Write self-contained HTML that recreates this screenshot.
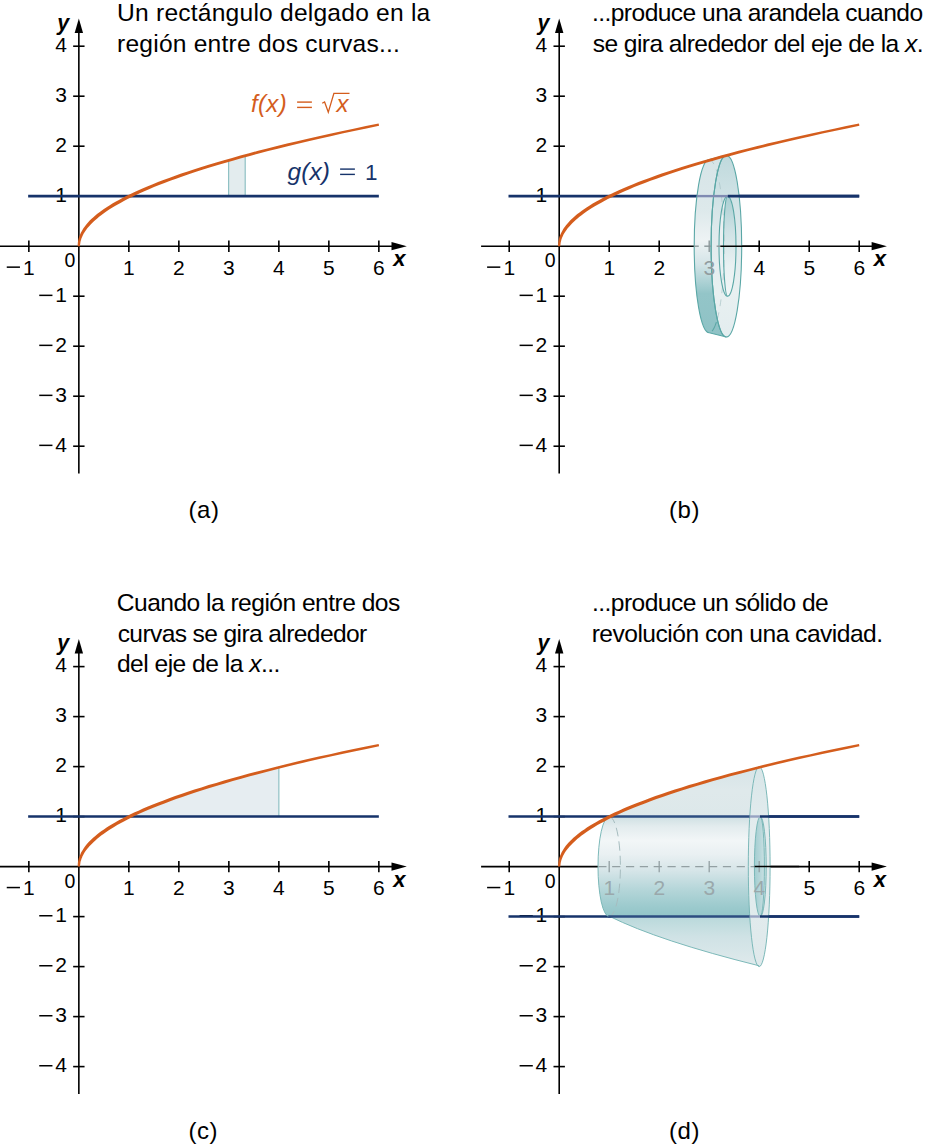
<!DOCTYPE html>
<html><head><meta charset="utf-8"><title>Figure</title>
<style>html,body{margin:0;padding:0;background:#fff}svg{display:block}text{font-family:"Liberation Sans",sans-serif}</style>
</head><body>
<svg width="930" height="1147" viewBox="0 0 930 1147" font-family="'Liberation Sans', sans-serif">
<defs></defs>
<rect width="930" height="1147" fill="#fff"/>
<!-- panel a -->
<path d="M228.6,196.20 L228.6,160.36 L245.2,155.73 L245.2,196.20 Z" fill="#e3ecee"/>
<path d="M228.6,196.20 L228.6,160.36 M245.2,155.73 L245.2,196.20" stroke="#8fc1c4" stroke-width="1.2" fill="none"/>
<line x1="0" y1="246.2" x2="394.8" y2="246.2" stroke="#000" stroke-width="1.6"/>
<path d="M406.8,246.2 L391.5,242.1 L391.5,250.29999999999998 Z" fill="#000"/>
<line x1="78.85" y1="30.5" x2="78.85" y2="473.6" stroke="#000" stroke-width="1.6"/>
<path d="M78.85,18.5 L74.64999999999999,33.1 L83.05,33.1 Z" fill="#000"/>
<line x1="28.849999999999994" y1="240.5" x2="28.849999999999994" y2="251.89999999999998" stroke="#000" stroke-width="1.6"/>
<line x1="128.85" y1="240.5" x2="128.85" y2="251.89999999999998" stroke="#000" stroke-width="1.6"/>
<line x1="178.85" y1="240.5" x2="178.85" y2="251.89999999999998" stroke="#000" stroke-width="1.6"/>
<line x1="228.85" y1="240.5" x2="228.85" y2="251.89999999999998" stroke="#000" stroke-width="1.6"/>
<line x1="278.85" y1="240.5" x2="278.85" y2="251.89999999999998" stroke="#000" stroke-width="1.6"/>
<line x1="328.85" y1="240.5" x2="328.85" y2="251.89999999999998" stroke="#000" stroke-width="1.6"/>
<line x1="378.85" y1="240.5" x2="378.85" y2="251.89999999999998" stroke="#000" stroke-width="1.6"/>
<line x1="73.14999999999999" y1="446.20" x2="84.55" y2="446.20" stroke="#000" stroke-width="1.6"/>
<line x1="73.14999999999999" y1="396.20" x2="84.55" y2="396.20" stroke="#000" stroke-width="1.6"/>
<line x1="73.14999999999999" y1="346.20" x2="84.55" y2="346.20" stroke="#000" stroke-width="1.6"/>
<line x1="73.14999999999999" y1="296.20" x2="84.55" y2="296.20" stroke="#000" stroke-width="1.6"/>
<line x1="73.14999999999999" y1="196.20" x2="84.55" y2="196.20" stroke="#000" stroke-width="1.6"/>
<line x1="73.14999999999999" y1="146.20" x2="84.55" y2="146.20" stroke="#000" stroke-width="1.6"/>
<line x1="73.14999999999999" y1="96.20" x2="84.55" y2="96.20" stroke="#000" stroke-width="1.6"/>
<line x1="73.14999999999999" y1="46.20" x2="84.55" y2="46.20" stroke="#000" stroke-width="1.6"/>
<text x="28.95" y="274.80" font-size="21" text-anchor="middle">1</text>
<rect x="6.75" y="266.40" width="13.2" height="1.5" fill="#000"/>
<text x="128.95" y="274.80" font-size="21" text-anchor="middle">1</text>
<text x="178.95" y="274.80" font-size="21" text-anchor="middle">2</text>
<text x="228.95" y="274.80" font-size="21" text-anchor="middle">3</text>
<text x="278.95" y="274.80" font-size="21" text-anchor="middle">4</text>
<text x="328.95" y="274.80" font-size="21" text-anchor="middle">5</text>
<text x="378.95" y="274.80" font-size="21" text-anchor="middle">6</text>
<text x="75.35" y="267.30" font-size="19.5" text-anchor="end">0</text>
<text x="66.95" y="451.60" font-size="21" text-anchor="end">4</text>
<rect x="39.25" y="444.60" width="13.2" height="1.5" fill="#000"/>
<text x="66.95" y="401.60" font-size="21" text-anchor="end">3</text>
<rect x="39.25" y="394.60" width="13.2" height="1.5" fill="#000"/>
<text x="66.95" y="351.60" font-size="21" text-anchor="end">2</text>
<rect x="39.25" y="344.60" width="13.2" height="1.5" fill="#000"/>
<text x="66.95" y="301.60" font-size="21" text-anchor="end">1</text>
<rect x="39.25" y="294.60" width="13.2" height="1.5" fill="#000"/>
<text x="66.95" y="201.60" font-size="21" text-anchor="end">1</text>
<text x="66.95" y="151.60" font-size="21" text-anchor="end">2</text>
<text x="66.95" y="101.60" font-size="21" text-anchor="end">3</text>
<text x="66.95" y="51.60" font-size="21" text-anchor="end">4</text>
<text x="57.15" y="30.00" font-size="21.5" font-weight="bold" font-style="italic">y</text>
<text x="393.35" y="266.20" font-size="22" font-weight="bold" font-style="italic">x</text>
<line x1="28.15" y1="196.10" x2="378.85" y2="196.10" stroke="#16336a" stroke-width="2.6"/>
<path d="M80.0,246.2 L80.0,246.0 L80.0,245.6 L80.0,245.2 L80.1,244.6 L80.2,244.0 L80.3,243.3 L80.4,242.5 L80.5,241.7 L80.7,240.9 L81.0,240.0 L81.3,239.0 L81.6,238.0 L82.1,237.0 L82.5,235.9 L83.1,234.8 L83.7,233.6 L84.4,232.4 L85.2,231.2 L86.1,229.9 L87.1,228.6 L88.2,227.3 L89.4,225.9 L90.7,224.5 L92.2,223.0 L93.7,221.5 L95.4,220.0 L97.2,218.4 L99.1,216.8 L101.2,215.2 L103.5,213.5 L105.9,211.8 L108.4,210.1 L111.2,208.3 L114.1,206.5 L117.2,204.7 L120.5,202.9 L123.9,201.0 L127.6,199.1 L131.5,197.2 L135.5,195.2 L139.8,193.2 L144.3,191.2 L149.0,189.2 L154.0,187.1 L159.1,185.1 L164.5,183.0 L170.2,180.8 L176.1,178.7 L182.3,176.5 L188.7,174.3 L195.3,172.1 L202.3,169.8 L209.5,167.6 L217.0,165.3 L224.8,163.0 L232.8,160.7 L241.2,158.3 L249.9,155.9 L258.8,153.5 L268.1,151.1 L277.7,148.7 L287.6,146.2 L297.9,143.7 L308.4,141.2 L319.3,138.7 L330.6,136.2 L342.2,133.6 L354.1,131.0 L366.4,128.5 L379.1,125.8 L378.6,123.6 L365.9,126.1 L353.6,128.7 L341.6,131.2 L330.0,133.8 L318.8,136.2 L307.8,138.7 L297.2,141.2 L287.0,143.6 L277.0,146.1 L267.4,148.5 L258.1,150.8 L249.1,153.2 L240.4,155.6 L232.1,157.9 L224.0,160.2 L216.2,162.5 L208.6,164.7 L201.4,167.0 L194.4,169.2 L187.7,171.4 L181.2,173.6 L175.1,175.7 L169.1,177.9 L163.4,180.0 L158.0,182.1 L152.8,184.2 L147.8,186.2 L143.0,188.2 L138.5,190.3 L134.1,192.2 L130.0,194.2 L126.1,196.1 L122.4,198.0 L118.9,199.9 L115.5,201.8 L112.4,203.6 L109.4,205.4 L106.6,207.2 L103.9,209.0 L101.5,210.7 L99.1,212.4 L97.0,214.1 L95.0,215.8 L93.1,217.4 L91.3,219.0 L89.7,220.6 L88.2,222.2 L86.9,223.7 L85.7,225.2 L84.6,226.7 L83.6,228.1 L82.7,229.5 L81.9,230.9 L81.1,232.2 L80.5,233.5 L80.0,234.8 L79.5,236.0 L79.1,237.1 L78.7,238.2 L78.5,239.3 L78.2,240.3 L78.1,241.3 L77.9,242.2 L77.8,243.0 L77.8,243.8 L77.7,244.5 L77.7,245.1 L77.7,245.6 L77.7,246.0 L77.7,246.2Z" fill="#d45d1d"/>
<text x="117.09" y="20.60" font-size="24.6" letter-spacing="0.212" fill="#000" >Un rectángulo delgado en la</text>
<text x="117.04" y="51.60" font-size="24.6" letter-spacing="0.213" fill="#000" >región entre dos curvas...</text>
<text x="250.96" y="112.30" font-size="24" letter-spacing="0.353" fill="#d45d1d" ><tspan font-style="italic">f(x)</tspan></text>
<rect x="297.1" y="101.4" width="14.8" height="1.4" fill="#d45d1d"/><rect x="297.1" y="106.7" width="14.8" height="1.4" fill="#d45d1d"/>
<path d="M322.2,103.3 L324.6,102.0 L328.3,112.2 L333.9,93.4 L349.5,93.4" fill="none" stroke="#d45d1d" stroke-width="1.3" stroke-linejoin="miter"/>
<text x="336.56" y="112.30" font-size="24" letter-spacing="0.000" fill="#d45d1d" ><tspan font-style="italic">x</tspan></text>
<text x="287.54" y="179.50" font-size="24.5" letter-spacing="0.077" fill="#16336a" ><tspan font-style="italic">g(x)</tspan></text>
<rect x="340.1" y="168.4" width="14.8" height="1.4" fill="#16336a"/><rect x="340.1" y="173.7" width="14.8" height="1.4" fill="#16336a"/>
<text x="365.01" y="179.50" font-size="22.5" letter-spacing="0.000" fill="#16336a" >1</text>
<text x="188.50" y="517.50" font-size="24" letter-spacing="0.580" fill="#000" >(a)</text>
<!-- panel b -->
<line x1="481.1" y1="246.2" x2="874.9" y2="246.2" stroke="#000" stroke-width="1.6"/>
<path d="M886.9,246.2 L871.6,242.1 L871.6,250.29999999999998 Z" fill="#000"/>
<line x1="559.2" y1="30.5" x2="559.2" y2="473.6" stroke="#000" stroke-width="1.6"/>
<path d="M559.2,18.5 L555.0,33.1 L563.4000000000001,33.1 Z" fill="#000"/>
<line x1="509.20000000000005" y1="240.5" x2="509.20000000000005" y2="251.89999999999998" stroke="#000" stroke-width="1.6"/>
<line x1="609.2" y1="240.5" x2="609.2" y2="251.89999999999998" stroke="#000" stroke-width="1.6"/>
<line x1="659.2" y1="240.5" x2="659.2" y2="251.89999999999998" stroke="#000" stroke-width="1.6"/>
<line x1="709.2" y1="240.5" x2="709.2" y2="251.89999999999998" stroke="#000" stroke-width="1.6"/>
<line x1="759.2" y1="240.5" x2="759.2" y2="251.89999999999998" stroke="#000" stroke-width="1.6"/>
<line x1="809.2" y1="240.5" x2="809.2" y2="251.89999999999998" stroke="#000" stroke-width="1.6"/>
<line x1="859.2" y1="240.5" x2="859.2" y2="251.89999999999998" stroke="#000" stroke-width="1.6"/>
<line x1="553.5" y1="446.20" x2="564.9000000000001" y2="446.20" stroke="#000" stroke-width="1.6"/>
<line x1="553.5" y1="396.20" x2="564.9000000000001" y2="396.20" stroke="#000" stroke-width="1.6"/>
<line x1="553.5" y1="346.20" x2="564.9000000000001" y2="346.20" stroke="#000" stroke-width="1.6"/>
<line x1="553.5" y1="296.20" x2="564.9000000000001" y2="296.20" stroke="#000" stroke-width="1.6"/>
<line x1="553.5" y1="196.20" x2="564.9000000000001" y2="196.20" stroke="#000" stroke-width="1.6"/>
<line x1="553.5" y1="146.20" x2="564.9000000000001" y2="146.20" stroke="#000" stroke-width="1.6"/>
<line x1="553.5" y1="96.20" x2="564.9000000000001" y2="96.20" stroke="#000" stroke-width="1.6"/>
<line x1="553.5" y1="46.20" x2="564.9000000000001" y2="46.20" stroke="#000" stroke-width="1.6"/>
<text x="509.30" y="274.80" font-size="21" text-anchor="middle">1</text>
<rect x="487.10" y="266.40" width="13.2" height="1.5" fill="#000"/>
<text x="609.30" y="274.80" font-size="21" text-anchor="middle">1</text>
<text x="659.30" y="274.80" font-size="21" text-anchor="middle">2</text>
<text x="709.30" y="274.80" font-size="21" text-anchor="middle">3</text>
<text x="759.30" y="274.80" font-size="21" text-anchor="middle">4</text>
<text x="809.30" y="274.80" font-size="21" text-anchor="middle">5</text>
<text x="859.30" y="274.80" font-size="21" text-anchor="middle">6</text>
<text x="555.70" y="267.30" font-size="19.5" text-anchor="end">0</text>
<text x="547.30" y="451.60" font-size="21" text-anchor="end">4</text>
<rect x="519.60" y="444.60" width="13.2" height="1.5" fill="#000"/>
<text x="547.30" y="401.60" font-size="21" text-anchor="end">3</text>
<rect x="519.60" y="394.60" width="13.2" height="1.5" fill="#000"/>
<text x="547.30" y="351.60" font-size="21" text-anchor="end">2</text>
<rect x="519.60" y="344.60" width="13.2" height="1.5" fill="#000"/>
<text x="547.30" y="301.60" font-size="21" text-anchor="end">1</text>
<rect x="519.60" y="294.60" width="13.2" height="1.5" fill="#000"/>
<text x="547.30" y="201.60" font-size="21" text-anchor="end">1</text>
<text x="547.30" y="151.60" font-size="21" text-anchor="end">2</text>
<text x="547.30" y="101.60" font-size="21" text-anchor="end">3</text>
<text x="547.30" y="51.60" font-size="21" text-anchor="end">4</text>
<text x="537.50" y="30.00" font-size="21.5" font-weight="bold" font-style="italic">y</text>
<text x="873.70" y="266.20" font-size="22" font-weight="bold" font-style="italic">x</text>
<line x1="508.50" y1="196.10" x2="859.20" y2="196.10" stroke="#16336a" stroke-width="2.6"/>
<defs>
<linearGradient id="wRim" gradientUnits="userSpaceOnUse" x1="0" y1="155.2" x2="0" y2="337.2">
<stop offset="0" stop-color="#d6e4e7"/><stop offset="0.30" stop-color="#dde9eb"/><stop offset="0.47" stop-color="#eef3f4"/><stop offset="0.60" stop-color="#d3e4e7"/><stop offset="0.76" stop-color="#93c5c8"/><stop offset="1" stop-color="#8fc2c5"/>
</linearGradient>
<linearGradient id="wFace" gradientUnits="userSpaceOnUse" x1="0" y1="155.2" x2="0" y2="337.2">
<stop offset="0" stop-color="#bfd9dc"/><stop offset="0.22" stop-color="#cfe2e5"/><stop offset="0.45" stop-color="#e0ebed"/><stop offset="0.75" stop-color="#e8f0f1"/><stop offset="1" stop-color="#e3edef"/>
</linearGradient>
<linearGradient id="wHole" gradientUnits="userSpaceOnUse" x1="0" y1="196.2" x2="0" y2="296.2">
<stop offset="0" stop-color="#a9cfd2"/><stop offset="0.35" stop-color="#cfe2e5"/><stop offset="0.7" stop-color="#e9f1f2"/><stop offset="1" stop-color="#f1f6f7"/>
</linearGradient>
</defs>
<path d="M709.20,159.60 A15.0,86.60 0 0 0 709.20,332.80 L726.40,337.03 A15.3,90.83 0 0 1 726.40,155.37 Z" fill="url(#wRim)"/>
<path d="M726.40,155.37 A15.3,90.83 0 0 0 726.40,337.03 A15.3,90.83 0 0 0 726.40,155.37 Z M727.50,196.20 A8.5,50.00 0 0 0 727.50,296.20 A8.5,50.00 0 0 0 727.50,196.20 Z" fill="url(#wFace)" fill-rule="evenodd"/>
<path d="M727.50,196.20 A8.5,50.00 0 0 0 727.50,296.20 A8.5,50.00 0 0 0 727.50,196.20 Z" fill="url(#wHole)"/>
<path d="M727.50,196.20 A8.5,50.00 0 0 0 727.50,296.20 A4.0,50.00 0 0 1 727.50,196.20 Z" fill="#e9f0f2"/>
<path d="M709.20,159.60 A15.0,86.60 0 0 1 709.20,332.80" fill="none" stroke="#a9c3c6" stroke-width="0.9" stroke-dasharray="7 6" stroke-opacity="0.8"/>
<path d="M709.20,159.60 A15.0,86.60 0 0 0 709.20,332.80 L726.40,337.03 A15.3,90.83 0 0 1 726.40,155.37 Z" fill="none" stroke="#5aa7a6" stroke-width="1.1"/>
<path d="M726.40,155.37 A15.3,90.83 0 0 0 726.40,337.03 A15.3,90.83 0 0 0 726.40,155.37 Z " fill="none" stroke="#5aa7a6" stroke-width="1.1"/>
<path d="M727.50,196.20 A8.5,50.00 0 0 0 727.50,296.20 A8.5,50.00 0 0 0 727.50,196.20 Z" fill="none" stroke="#5aa7a6" stroke-width="1.1"/>
<path d="M727.50,196.20 A4.0,50.00 0 0 0 727.50,296.20" fill="none" stroke="#5aa7a6" stroke-width="1.1"/>
<path d="M716.39,322.20 A15.0,86.60 0 0 1 712.07,331.20" fill="none" stroke="#5aa7a6" stroke-width="1.1"/>
<line x1="694.20" y1="246.2" x2="720.50" y2="246.2" stroke="#fff" stroke-opacity="0" />
<line x1="697.00" y1="196.10" x2="727.80" y2="196.10" stroke="#808bb2" stroke-width="2.4"/>
<line x1="694.20" y1="246.2" x2="698.80" y2="246.2" stroke="#8b9799" stroke-width="1.4"/>
<line x1="704.30" y1="246.2" x2="710.70" y2="246.2" stroke="#8b9799" stroke-width="1.4"/>
<line x1="716.60" y1="246.2" x2="720.30" y2="246.2" stroke="#8b9799" stroke-width="1.4"/>
<line x1="709.20" y1="240.5" x2="709.20" y2="251.89999999999998" stroke="#8b9799" stroke-width="1.4"/>
<text x="709.40" y="275.00" font-size="21" text-anchor="middle" fill="#919c9f">3</text>
<line x1="720.30" y1="246.2" x2="759.20" y2="246.2" stroke="#000" stroke-width="1.5"/>
<line x1="727.80" y1="196.10" x2="859.20" y2="196.10" stroke="#16336a" stroke-width="2.6"/>
<path d="M560.4,246.2 L560.4,246.0 L560.4,245.6 L560.4,245.2 L560.4,244.6 L560.5,244.0 L560.6,243.3 L560.7,242.5 L560.9,241.7 L561.1,240.9 L561.3,240.0 L561.6,239.0 L562.0,238.0 L562.4,237.0 L562.9,235.9 L563.4,234.8 L564.1,233.6 L564.8,232.4 L565.6,231.2 L566.5,229.9 L567.5,228.6 L568.6,227.3 L569.8,225.9 L571.1,224.5 L572.5,223.0 L574.1,221.5 L575.7,220.0 L577.5,218.4 L579.5,216.8 L581.6,215.2 L583.8,213.5 L586.2,211.8 L588.8,210.1 L591.5,208.3 L594.4,206.5 L597.5,204.7 L600.8,202.9 L604.3,201.0 L607.9,199.1 L611.8,197.2 L615.9,195.2 L620.2,193.2 L624.6,191.2 L629.4,189.2 L634.3,187.1 L639.5,185.1 L644.9,183.0 L650.5,180.8 L656.5,178.7 L662.6,176.5 L669.0,174.3 L675.7,172.1 L682.6,169.8 L689.9,167.6 L697.3,165.3 L705.1,163.0 L713.2,160.7 L721.6,158.3 L730.2,155.9 L739.2,153.5 L748.5,151.1 L758.1,148.7 L768.0,146.2 L778.2,143.7 L788.8,141.2 L799.7,138.7 L810.9,136.2 L822.5,133.6 L834.5,131.0 L846.8,128.5 L859.4,125.8 L859.0,123.6 L846.3,126.1 L834.0,128.7 L822.0,131.2 L810.4,133.8 L799.1,136.2 L788.2,138.7 L777.6,141.2 L767.3,143.6 L757.4,146.1 L747.8,148.5 L738.5,150.8 L729.5,153.2 L720.8,155.6 L712.4,157.9 L704.3,160.2 L696.5,162.5 L689.0,164.7 L681.7,167.0 L674.8,169.2 L668.0,171.4 L661.6,173.6 L655.4,175.7 L649.5,177.9 L643.8,180.0 L638.3,182.1 L633.1,184.2 L628.1,186.2 L623.4,188.2 L618.8,190.3 L614.5,192.2 L610.4,194.2 L606.4,196.1 L602.7,198.0 L599.2,199.9 L595.9,201.8 L592.7,203.6 L589.7,205.4 L586.9,207.2 L584.3,209.0 L581.8,210.7 L579.5,212.4 L577.3,214.1 L575.3,215.8 L573.4,217.4 L571.7,219.0 L570.1,220.6 L568.6,222.2 L567.3,223.7 L566.0,225.2 L564.9,226.7 L563.9,228.1 L563.0,229.5 L562.2,230.9 L561.5,232.2 L560.9,233.5 L560.3,234.8 L559.8,236.0 L559.4,237.1 L559.1,238.2 L558.8,239.3 L558.6,240.3 L558.4,241.3 L558.3,242.2 L558.2,243.0 L558.1,243.8 L558.1,244.5 L558.0,245.1 L558.0,245.6 L558.0,246.0 L558.1,246.2Z" fill="#d45d1d"/>
<text x="591.92" y="20.90" font-size="24.6" letter-spacing="-0.554" fill="#000" >...produce una arandela cuando</text>
<text x="592.82" y="51.80" font-size="24.6" letter-spacing="-0.587" fill="#000" >se gira alrededor del eje de la <tspan font-style="italic">x</tspan>.</text>
<text x="669.00" y="517.50" font-size="24" letter-spacing="0.530" fill="#000" >(b)</text>
<!-- panel c -->
<path d="M128.85,817.00 Q178.85,792.20 278.85,767.40 L278.85,816.60 Z" fill="#e6edf1"/>
<line x1="278.85" y1="767.40" x2="278.85" y2="816.60" stroke="#8fc1c4" stroke-width="1.2"/>
<line x1="0" y1="866.6" x2="394.8" y2="866.6" stroke="#000" stroke-width="1.6"/>
<path d="M406.8,866.6 L391.5,862.5 L391.5,870.7 Z" fill="#000"/>
<line x1="78.85" y1="650.9000000000001" x2="78.85" y2="1094.0" stroke="#000" stroke-width="1.6"/>
<path d="M78.85,638.9000000000001 L74.64999999999999,653.5000000000001 L83.05,653.5000000000001 Z" fill="#000"/>
<line x1="28.849999999999994" y1="860.9" x2="28.849999999999994" y2="872.3000000000001" stroke="#000" stroke-width="1.6"/>
<line x1="128.85" y1="860.9" x2="128.85" y2="872.3000000000001" stroke="#000" stroke-width="1.6"/>
<line x1="178.85" y1="860.9" x2="178.85" y2="872.3000000000001" stroke="#000" stroke-width="1.6"/>
<line x1="228.85" y1="860.9" x2="228.85" y2="872.3000000000001" stroke="#000" stroke-width="1.6"/>
<line x1="278.85" y1="860.9" x2="278.85" y2="872.3000000000001" stroke="#000" stroke-width="1.6"/>
<line x1="328.85" y1="860.9" x2="328.85" y2="872.3000000000001" stroke="#000" stroke-width="1.6"/>
<line x1="378.85" y1="860.9" x2="378.85" y2="872.3000000000001" stroke="#000" stroke-width="1.6"/>
<line x1="73.14999999999999" y1="1066.60" x2="84.55" y2="1066.60" stroke="#000" stroke-width="1.6"/>
<line x1="73.14999999999999" y1="1016.60" x2="84.55" y2="1016.60" stroke="#000" stroke-width="1.6"/>
<line x1="73.14999999999999" y1="966.60" x2="84.55" y2="966.60" stroke="#000" stroke-width="1.6"/>
<line x1="73.14999999999999" y1="916.60" x2="84.55" y2="916.60" stroke="#000" stroke-width="1.6"/>
<line x1="73.14999999999999" y1="816.60" x2="84.55" y2="816.60" stroke="#000" stroke-width="1.6"/>
<line x1="73.14999999999999" y1="766.60" x2="84.55" y2="766.60" stroke="#000" stroke-width="1.6"/>
<line x1="73.14999999999999" y1="716.60" x2="84.55" y2="716.60" stroke="#000" stroke-width="1.6"/>
<line x1="73.14999999999999" y1="666.60" x2="84.55" y2="666.60" stroke="#000" stroke-width="1.6"/>
<text x="28.95" y="895.20" font-size="21" text-anchor="middle">1</text>
<rect x="6.75" y="886.80" width="13.2" height="1.5" fill="#000"/>
<text x="128.95" y="895.20" font-size="21" text-anchor="middle">1</text>
<text x="178.95" y="895.20" font-size="21" text-anchor="middle">2</text>
<text x="228.95" y="895.20" font-size="21" text-anchor="middle">3</text>
<text x="278.95" y="895.20" font-size="21" text-anchor="middle">4</text>
<text x="328.95" y="895.20" font-size="21" text-anchor="middle">5</text>
<text x="378.95" y="895.20" font-size="21" text-anchor="middle">6</text>
<text x="75.35" y="887.70" font-size="19.5" text-anchor="end">0</text>
<text x="66.95" y="1072.00" font-size="21" text-anchor="end">4</text>
<rect x="39.25" y="1065.00" width="13.2" height="1.5" fill="#000"/>
<text x="66.95" y="1022.00" font-size="21" text-anchor="end">3</text>
<rect x="39.25" y="1015.00" width="13.2" height="1.5" fill="#000"/>
<text x="66.95" y="972.00" font-size="21" text-anchor="end">2</text>
<rect x="39.25" y="965.00" width="13.2" height="1.5" fill="#000"/>
<text x="66.95" y="922.00" font-size="21" text-anchor="end">1</text>
<rect x="39.25" y="915.00" width="13.2" height="1.5" fill="#000"/>
<text x="66.95" y="822.00" font-size="21" text-anchor="end">1</text>
<text x="66.95" y="772.00" font-size="21" text-anchor="end">2</text>
<text x="66.95" y="722.00" font-size="21" text-anchor="end">3</text>
<text x="66.95" y="672.00" font-size="21" text-anchor="end">4</text>
<text x="57.15" y="650.40" font-size="21.5" font-weight="bold" font-style="italic">y</text>
<text x="393.35" y="886.60" font-size="22" font-weight="bold" font-style="italic">x</text>
<line x1="28.15" y1="816.50" x2="378.85" y2="816.50" stroke="#16336a" stroke-width="2.6"/>
<path d="M80.0,866.6 L80.0,866.4 L80.0,866.0 L80.0,865.6 L80.1,865.0 L80.2,864.4 L80.3,863.7 L80.4,862.9 L80.5,862.1 L80.7,861.3 L81.0,860.4 L81.3,859.4 L81.6,858.4 L82.1,857.4 L82.5,856.3 L83.1,855.2 L83.7,854.0 L84.4,852.8 L85.2,851.6 L86.1,850.3 L87.1,849.0 L88.2,847.7 L89.4,846.3 L90.7,844.9 L92.2,843.4 L93.7,841.9 L95.4,840.4 L97.2,838.8 L99.1,837.2 L101.2,835.6 L103.5,833.9 L105.9,832.2 L108.4,830.5 L111.2,828.7 L114.1,826.9 L117.2,825.1 L120.5,823.3 L123.9,821.4 L127.6,819.5 L131.5,817.6 L135.5,815.6 L139.8,813.6 L144.3,811.6 L149.0,809.6 L154.0,807.5 L159.1,805.5 L164.5,803.4 L170.2,801.2 L176.1,799.1 L182.3,796.9 L188.7,794.7 L195.3,792.5 L202.3,790.2 L209.5,788.0 L217.0,785.7 L224.8,783.4 L232.8,781.1 L241.2,778.7 L249.9,776.3 L258.8,773.9 L268.1,771.5 L277.7,769.1 L287.6,766.6 L297.9,764.1 L308.4,761.6 L319.3,759.1 L330.6,756.6 L342.2,754.0 L354.1,751.4 L366.4,748.9 L379.1,746.2 L378.6,744.0 L365.9,746.5 L353.6,749.1 L341.6,751.6 L330.0,754.2 L318.8,756.6 L307.8,759.1 L297.2,761.6 L287.0,764.0 L277.0,766.5 L267.4,768.9 L258.1,771.2 L249.1,773.6 L240.4,776.0 L232.1,778.3 L224.0,780.6 L216.2,782.9 L208.6,785.1 L201.4,787.4 L194.4,789.6 L187.7,791.8 L181.2,794.0 L175.1,796.1 L169.1,798.3 L163.4,800.4 L158.0,802.5 L152.8,804.6 L147.8,806.6 L143.0,808.6 L138.5,810.7 L134.1,812.6 L130.0,814.6 L126.1,816.5 L122.4,818.4 L118.9,820.3 L115.5,822.2 L112.4,824.0 L109.4,825.8 L106.6,827.6 L103.9,829.4 L101.5,831.1 L99.1,832.8 L97.0,834.5 L95.0,836.2 L93.1,837.8 L91.3,839.4 L89.7,841.0 L88.2,842.6 L86.9,844.1 L85.7,845.6 L84.6,847.1 L83.6,848.5 L82.7,849.9 L81.9,851.3 L81.1,852.6 L80.5,853.9 L80.0,855.2 L79.5,856.4 L79.1,857.5 L78.7,858.6 L78.5,859.7 L78.2,860.7 L78.1,861.7 L77.9,862.6 L77.8,863.4 L77.8,864.2 L77.7,864.9 L77.7,865.5 L77.7,866.0 L77.7,866.4 L77.7,866.6Z" fill="#d45d1d"/>
<text x="116.77" y="611.10" font-size="24.6" letter-spacing="-0.528" fill="#000" >Cuando la región entre dos</text>
<text x="117.65" y="642.10" font-size="24.6" letter-spacing="-0.617" fill="#000" >curvas se gira alrededor</text>
<text x="116.95" y="672.20" font-size="24.6" letter-spacing="-0.521" fill="#000" >del eje de la <tspan font-style="italic">x</tspan>...</text>
<text x="188.50" y="1138.60" font-size="24" letter-spacing="0.520" fill="#000" >(c)</text>
<!-- panel d -->
<line x1="481.1" y1="866.6" x2="874.9" y2="866.6" stroke="#000" stroke-width="1.6"/>
<path d="M886.9,866.6 L871.6,862.5 L871.6,870.7 Z" fill="#000"/>
<line x1="559.2" y1="650.9000000000001" x2="559.2" y2="1094.0" stroke="#000" stroke-width="1.6"/>
<path d="M559.2,638.9000000000001 L555.0,653.5000000000001 L563.4000000000001,653.5000000000001 Z" fill="#000"/>
<line x1="509.20000000000005" y1="860.9" x2="509.20000000000005" y2="872.3000000000001" stroke="#000" stroke-width="1.6"/>
<line x1="609.2" y1="860.9" x2="609.2" y2="872.3000000000001" stroke="#000" stroke-width="1.6"/>
<line x1="659.2" y1="860.9" x2="659.2" y2="872.3000000000001" stroke="#000" stroke-width="1.6"/>
<line x1="709.2" y1="860.9" x2="709.2" y2="872.3000000000001" stroke="#000" stroke-width="1.6"/>
<line x1="759.2" y1="860.9" x2="759.2" y2="872.3000000000001" stroke="#000" stroke-width="1.6"/>
<line x1="809.2" y1="860.9" x2="809.2" y2="872.3000000000001" stroke="#000" stroke-width="1.6"/>
<line x1="859.2" y1="860.9" x2="859.2" y2="872.3000000000001" stroke="#000" stroke-width="1.6"/>
<line x1="553.5" y1="1066.60" x2="564.9000000000001" y2="1066.60" stroke="#000" stroke-width="1.6"/>
<line x1="553.5" y1="1016.60" x2="564.9000000000001" y2="1016.60" stroke="#000" stroke-width="1.6"/>
<line x1="553.5" y1="966.60" x2="564.9000000000001" y2="966.60" stroke="#000" stroke-width="1.6"/>
<line x1="553.5" y1="916.60" x2="564.9000000000001" y2="916.60" stroke="#000" stroke-width="1.6"/>
<line x1="553.5" y1="816.60" x2="564.9000000000001" y2="816.60" stroke="#000" stroke-width="1.6"/>
<line x1="553.5" y1="766.60" x2="564.9000000000001" y2="766.60" stroke="#000" stroke-width="1.6"/>
<line x1="553.5" y1="716.60" x2="564.9000000000001" y2="716.60" stroke="#000" stroke-width="1.6"/>
<line x1="553.5" y1="666.60" x2="564.9000000000001" y2="666.60" stroke="#000" stroke-width="1.6"/>
<text x="509.30" y="895.20" font-size="21" text-anchor="middle">1</text>
<rect x="487.10" y="886.80" width="13.2" height="1.5" fill="#000"/>
<text x="609.30" y="895.20" font-size="21" text-anchor="middle">1</text>
<text x="659.30" y="895.20" font-size="21" text-anchor="middle">2</text>
<text x="709.30" y="895.20" font-size="21" text-anchor="middle">3</text>
<text x="759.30" y="895.20" font-size="21" text-anchor="middle">4</text>
<text x="809.30" y="895.20" font-size="21" text-anchor="middle">5</text>
<text x="859.30" y="895.20" font-size="21" text-anchor="middle">6</text>
<text x="555.70" y="887.70" font-size="19.5" text-anchor="end">0</text>
<text x="547.30" y="1072.00" font-size="21" text-anchor="end">4</text>
<rect x="519.60" y="1065.00" width="13.2" height="1.5" fill="#000"/>
<text x="547.30" y="1022.00" font-size="21" text-anchor="end">3</text>
<rect x="519.60" y="1015.00" width="13.2" height="1.5" fill="#000"/>
<text x="547.30" y="972.00" font-size="21" text-anchor="end">2</text>
<rect x="519.60" y="965.00" width="13.2" height="1.5" fill="#000"/>
<text x="547.30" y="922.00" font-size="21" text-anchor="end">1</text>
<rect x="519.60" y="915.00" width="13.2" height="1.5" fill="#000"/>
<text x="547.30" y="822.00" font-size="21" text-anchor="end">1</text>
<text x="547.30" y="772.00" font-size="21" text-anchor="end">2</text>
<text x="547.30" y="722.00" font-size="21" text-anchor="end">3</text>
<text x="547.30" y="672.00" font-size="21" text-anchor="end">4</text>
<text x="537.50" y="650.40" font-size="21.5" font-weight="bold" font-style="italic">y</text>
<text x="873.70" y="886.60" font-size="22" font-weight="bold" font-style="italic">x</text>
<line x1="508.50" y1="816.50" x2="859.20" y2="816.50" stroke="#16336a" stroke-width="2.6"/>
<line x1="508.50" y1="916.50" x2="859.20" y2="916.50" stroke="#16336a" stroke-width="2.6"/>
<defs>
<linearGradient id="sBody" gradientUnits="userSpaceOnUse" x1="0" y1="766.6" x2="0" y2="966.6">
<stop offset="0" stop-color="#d6e4e7"/><stop offset="0.12" stop-color="#dfe9eb"/><stop offset="0.249" stop-color="#dde8ea"/>
<stop offset="0.251" stop-color="#cfe0e3"/><stop offset="0.30" stop-color="#e3ecee"/><stop offset="0.37" stop-color="#f2f6f7"/><stop offset="0.44" stop-color="#e9f0f2"/><stop offset="0.52" stop-color="#d6e5e8"/><stop offset="0.62" stop-color="#b3d5d8"/><stop offset="0.70" stop-color="#9ccacd"/><stop offset="0.749" stop-color="#92c5c8"/>
<stop offset="0.751" stop-color="#b9d9db"/><stop offset="0.85" stop-color="#cfe2e5"/><stop offset="1" stop-color="#e0eaec"/>
</linearGradient>
<linearGradient id="sFace" gradientUnits="userSpaceOnUse" x1="0" y1="766.6" x2="0" y2="966.6">
<stop offset="0" stop-color="#d8e6e8"/><stop offset="0.3" stop-color="#e3ecee"/><stop offset="0.7" stop-color="#e1ebed"/><stop offset="1" stop-color="#dfe9eb"/>
</linearGradient>
<linearGradient id="sHole" gradientUnits="userSpaceOnUse" x1="754.2" y1="0" x2="766.2" y2="0">
<stop offset="0" stop-color="#a2cdd0"/><stop offset="0.5" stop-color="#b7d7da"/><stop offset="1" stop-color="#d3e5e7"/>
</linearGradient>
</defs>
<path d="M609.20,816.60 L609.20,817.00 Q659.20,792.20 759.20,767.40 L759.20,965.80 Q659.20,941.00 609.20,916.20 L609.20,916.60 A11.2,50.00 0 0 1 609.20,816.60 Z" fill="url(#sBody)"/>
<path d="M759.20,766.60 A10.9,100.00 0 0 0 759.20,966.60 A10.9,100.00 0 0 0 759.20,766.60 Z " fill="url(#sFace)"/>
<path d="M760.30,816.60 A5.9,50.00 0 0 0 760.30,916.60 A5.9,50.00 0 0 0 760.30,816.60 Z" fill="url(#sHole)"/>
<path d="M760.30,816.60 A5.9,50.00 0 0 1 760.30,916.60 A4.1,50.00 0 0 0 760.30,816.60 Z" fill="#d5e6e8"/>
<path d="M609.20,816.60 A11.2,50.00 0 0 1 609.20,916.60" fill="none" stroke="#a6bcbf" stroke-width="1" stroke-dasharray="9 5"/>
<path d="M609.20,816.60 A11.2,50.00 0 0 0 609.20,916.60" fill="none" stroke="#76b5b5" stroke-width="0.95"/>
<path d="M609.20,916.20 Q659.20,941.00 759.20,965.80" fill="none" stroke="#76b5b5" stroke-width="0.95"/>
<path d="M759.20,766.60 A10.9,100.00 0 0 0 759.20,966.60 A10.9,100.00 0 0 0 759.20,766.60 Z " fill="none" stroke="#76b5b5" stroke-width="0.95"/>
<path d="M760.30,816.60 A5.9,50.00 0 0 0 760.30,916.60 A5.9,50.00 0 0 0 760.30,816.60 Z" fill="none" stroke="#76b5b5" stroke-width="0.95"/>
<path d="M760.30,816.60 A4.1,50.00 0 0 1 760.30,916.60" fill="none" stroke="#76b5b5" stroke-width="0.95"/>
<line x1="608.20" y1="816.50" x2="749.72" y2="816.50" stroke="#2c4d80" stroke-width="2.5"/>
<line x1="749.72" y1="816.50" x2="760.30" y2="816.50" stroke="#97a3c2" stroke-width="2.4"/>
<line x1="760.00" y1="816.50" x2="859.20" y2="816.50" stroke="#16336a" stroke-width="2.6"/>
<line x1="608.20" y1="916.50" x2="749.72" y2="916.50" stroke="#2c4d80" stroke-width="2.5"/>
<line x1="749.72" y1="916.50" x2="760.30" y2="916.50" stroke="#97a3c2" stroke-width="2.4"/>
<line x1="760.00" y1="916.50" x2="859.20" y2="916.50" stroke="#16336a" stroke-width="2.6"/>
<line x1="598.30" y1="866.6" x2="754.60" y2="866.6" stroke="#93a0a3" stroke-width="1.3" stroke-dasharray="8.2 5.64"/>
<line x1="609.20" y1="860.9" x2="609.20" y2="872.3000000000001" stroke="#93a0a3" stroke-width="1.3"/>
<text x="609.40" y="895.40" font-size="21" text-anchor="middle" fill="#9aa8ab">1</text>
<line x1="659.20" y1="860.9" x2="659.20" y2="872.3000000000001" stroke="#93a0a3" stroke-width="1.3"/>
<text x="659.40" y="895.40" font-size="21" text-anchor="middle" fill="#9aa8ab">2</text>
<line x1="709.20" y1="860.9" x2="709.20" y2="872.3000000000001" stroke="#93a0a3" stroke-width="1.3"/>
<text x="709.40" y="895.40" font-size="21" text-anchor="middle" fill="#9aa8ab">3</text>
<line x1="759.20" y1="860.9" x2="759.20" y2="872.3000000000001" stroke="#93a0a3" stroke-width="1.3"/>
<text x="759.40" y="895.40" font-size="21" text-anchor="middle" fill="#9aa8ab">4</text>
<line x1="754.60" y1="866.6" x2="799.20" y2="866.6" stroke="#000" stroke-width="1.5"/>
<path d="M560.4,866.6 L560.4,866.4 L560.4,866.0 L560.4,865.6 L560.4,865.0 L560.5,864.4 L560.6,863.7 L560.7,862.9 L560.9,862.1 L561.1,861.3 L561.3,860.4 L561.6,859.4 L562.0,858.4 L562.4,857.4 L562.9,856.3 L563.4,855.2 L564.1,854.0 L564.8,852.8 L565.6,851.6 L566.5,850.3 L567.5,849.0 L568.6,847.7 L569.8,846.3 L571.1,844.9 L572.5,843.4 L574.1,841.9 L575.7,840.4 L577.5,838.8 L579.5,837.2 L581.6,835.6 L583.8,833.9 L586.2,832.2 L588.8,830.5 L591.5,828.7 L594.4,826.9 L597.5,825.1 L600.8,823.3 L604.3,821.4 L607.9,819.5 L611.8,817.6 L615.9,815.6 L620.2,813.6 L624.6,811.6 L629.4,809.6 L634.3,807.5 L639.5,805.5 L644.9,803.4 L650.5,801.2 L656.5,799.1 L662.6,796.9 L669.0,794.7 L675.7,792.5 L682.6,790.2 L689.9,788.0 L697.3,785.7 L705.1,783.4 L713.2,781.1 L721.6,778.7 L730.2,776.3 L739.2,773.9 L748.5,771.5 L758.1,769.1 L768.0,766.6 L778.2,764.1 L788.8,761.6 L799.7,759.1 L810.9,756.6 L822.5,754.0 L834.5,751.4 L846.8,748.9 L859.4,746.2 L859.0,744.0 L846.3,746.5 L834.0,749.1 L822.0,751.6 L810.4,754.2 L799.1,756.6 L788.2,759.1 L777.6,761.6 L767.3,764.0 L757.4,766.5 L747.8,768.9 L738.5,771.2 L729.5,773.6 L720.8,776.0 L712.4,778.3 L704.3,780.6 L696.5,782.9 L689.0,785.1 L681.7,787.4 L674.8,789.6 L668.0,791.8 L661.6,794.0 L655.4,796.1 L649.5,798.3 L643.8,800.4 L638.3,802.5 L633.1,804.6 L628.1,806.6 L623.4,808.6 L618.8,810.7 L614.5,812.6 L610.4,814.6 L606.4,816.5 L602.7,818.4 L599.2,820.3 L595.9,822.2 L592.7,824.0 L589.7,825.8 L586.9,827.6 L584.3,829.4 L581.8,831.1 L579.5,832.8 L577.3,834.5 L575.3,836.2 L573.4,837.8 L571.7,839.4 L570.1,841.0 L568.6,842.6 L567.3,844.1 L566.0,845.6 L564.9,847.1 L563.9,848.5 L563.0,849.9 L562.2,851.3 L561.5,852.6 L560.9,853.9 L560.3,855.2 L559.8,856.4 L559.4,857.5 L559.1,858.6 L558.8,859.7 L558.6,860.7 L558.4,861.7 L558.3,862.6 L558.2,863.4 L558.1,864.2 L558.1,864.9 L558.0,865.5 L558.0,866.0 L558.0,866.4 L558.1,866.6Z" fill="#d45d1d"/>
<text x="592.02" y="611.20" font-size="24.6" letter-spacing="-0.553" fill="#000" >...produce un sólido de</text>
<text x="591.64" y="642.00" font-size="24.6" letter-spacing="-0.516" fill="#000" >revolución con una cavidad.</text>
<text x="669.00" y="1138.60" font-size="24" letter-spacing="0.530" fill="#000" >(d)</text>
</svg>
</body></html>
